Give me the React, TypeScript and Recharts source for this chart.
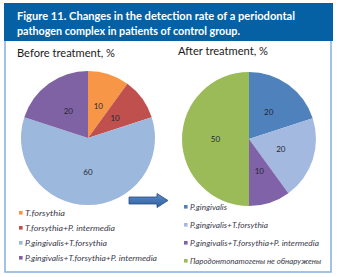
import React from "react";
import { PieChart, Pie, Cell, Legend } from "recharts";

const beforeNames = [
  "T.forsythia",
  "T.forsythia+P. intermedia",
  "P.gingivalis+T.forsythia",
  "P.gingivalis+T.forsythia+P. intermedia",
];
const beforeValues = [10, 10, 60, 20];
const beforeColors = ["#F79646", "#C0504D", "#9DB8DD", "#7F62A3"];

const afterNames = [
  "P.gingivalis",
  "P.gingivalis+T.forsythia",
  "P.gingivalis+T.forsythia+P. intermedia",
  "Пародонтопатогены не обнаружены",
];
const afterValues = [20, 20, 10, 50];
const afterColors = ["#4F81BD", "#A3B9DF", "#8062A8", "#9BBB59"];

const titleLines = [
  "Figure 11. Changes in the detection rate of a periodontal",
  "pathogen complex in patients of control group.",
];
const chartTitles = ["Before treatment, %", "After treatment, %"];

const beforeData = beforeNames.map((name, i) => ({ name, value: beforeValues[i] }));
const afterData = afterNames.map((name, i) => ({ name, value: afterValues[i] }));

const RAD = Math.PI / 180;
const renderLabel = (p: any) => {
  const r = p.outerRadius * 0.5;
  const x = p.cx + r * Math.cos(-p.midAngle * RAD);
  const y = p.cy + r * Math.sin(-p.midAngle * RAD);
  return (
    <text
      x={x}
      y={y}
      fill="#262633"
      fontSize={8}
      fontFamily="Lato, sans-serif"
      textAnchor="middle"
      dominantBaseline="central"
    >
      {p.value}
    </text>
  );
};

const makeLegend = (names: string[], colors: string[], rowGap: number, widths: number[]) => () => (
  <svg width={160} height={80} style={{ display: "block" }}>
    {names.map((n, i) => (
      <g key={n}>
        <rect x={0} y={i * rowGap + 3} width={3.6} height={3.6} fill={colors[i]} />
        <text
          x={6}
          y={i * rowGap + 7.5}
          fontSize={7.6}
          fontStyle="italic"
          fontFamily="Lato, sans-serif"
          fill="#3a3a4a"
          textLength={widths[i]}
          lengthAdjust="spacingAndGlyphs"
        >
          {n}
        </text>
      </g>
    ))}
  </svg>
);

const LeftLegend = makeLegend(beforeNames, beforeColors, 15, [40, 90, 82, 132]);
const RightLegend = makeLegend(afterNames, afterColors, 18, [37, 78, 129, 131]);

export default function App() {
  return (
    <div
      style={{
        position: "fixed",
        left: 0,
        top: 0,
        width: 338,
        height: 277,
        background: "#fff",
        fontFamily: "Lato, sans-serif",
      }}
    >
      <svg width={338} height={277} style={{ position: "absolute", left: 0, top: 0 }}>
        <defs>
          <linearGradient id="arrowGrad" x1="0" y1="0" x2="0" y2="1">
            <stop offset="0" stopColor="#5B8BC9" />
            <stop offset="1" stopColor="#2F5F9E" />
          </linearGradient>
        </defs>
        <rect x={5} y={40} width={326} height={232} fill="#fff" stroke="#86AEDC" strokeWidth={1.5} />
        <rect x={4} y={3} width={329} height={38} fill="#0561A3" />
        <text x={17} y={20} fill="#fff" fontSize={11} fontWeight="bold" textLength={278} lengthAdjust="spacingAndGlyphs">
          {titleLines[0]}
        </text>
        <text x={17} y={35} fill="#fff" fontSize={11} fontWeight="bold" textLength={223} lengthAdjust="spacingAndGlyphs">
          {titleLines[1]}
        </text>
        <text x={17} y={56.5} fill="#1a1a1a" fontSize={11} textLength={98} lengthAdjust="spacingAndGlyphs">
          {chartTitles[0]}
        </text>
        <text x={178} y={54.5} fill="#1a1a1a" fontSize={11} textLength={90} lengthAdjust="spacingAndGlyphs">
          {chartTitles[1]}
        </text>
        <polygon
          points="129,197 157,197 157,193.5 168,200.5 157,207.5 157,204 129,204"
          fill="url(#arrowGrad)"
          stroke="#2A4E80"
          strokeWidth={0.8}
        />
      </svg>

      <div style={{ position: "absolute", left: 0, top: 0 }}>
        <PieChart width={169} height={277}>
          <Pie
            data={beforeData}
            dataKey="value"
            nameKey="name"
            cx={83}
            cy={133}
            outerRadius={67}
            startAngle={90}
            endAngle={-270}
            stroke="none"
            label={renderLabel}
            labelLine={false}
            isAnimationActive={false}
          >
            {beforeData.map((d, i) => (
              <Cell key={d.name} fill={beforeColors[i]} />
            ))}
          </Pie>
          <Legend
            content={LeftLegend}
            wrapperStyle={{ position: "absolute", left: 19, top: 208, width: 160, height: 80 }}
          />
        </PieChart>
      </div>

      <div style={{ position: "absolute", left: 169, top: 0 }}>
        <PieChart width={169} height={277}>
          <Pie
            data={afterData}
            dataKey="value"
            nameKey="name"
            cx={75}
            cy={134}
            outerRadius={67}
            startAngle={90}
            endAngle={-270}
            stroke="none"
            label={renderLabel}
            labelLine={false}
            isAnimationActive={false}
          >
            {afterData.map((d, i) => (
              <Cell key={d.name} fill={afterColors[i]} />
            ))}
          </Pie>
          <Legend
            content={RightLegend}
            wrapperStyle={{ position: "absolute", left: 15, top: 202, width: 160, height: 80 }}
          />
        </PieChart>
      </div>
    </div>
  );
}
